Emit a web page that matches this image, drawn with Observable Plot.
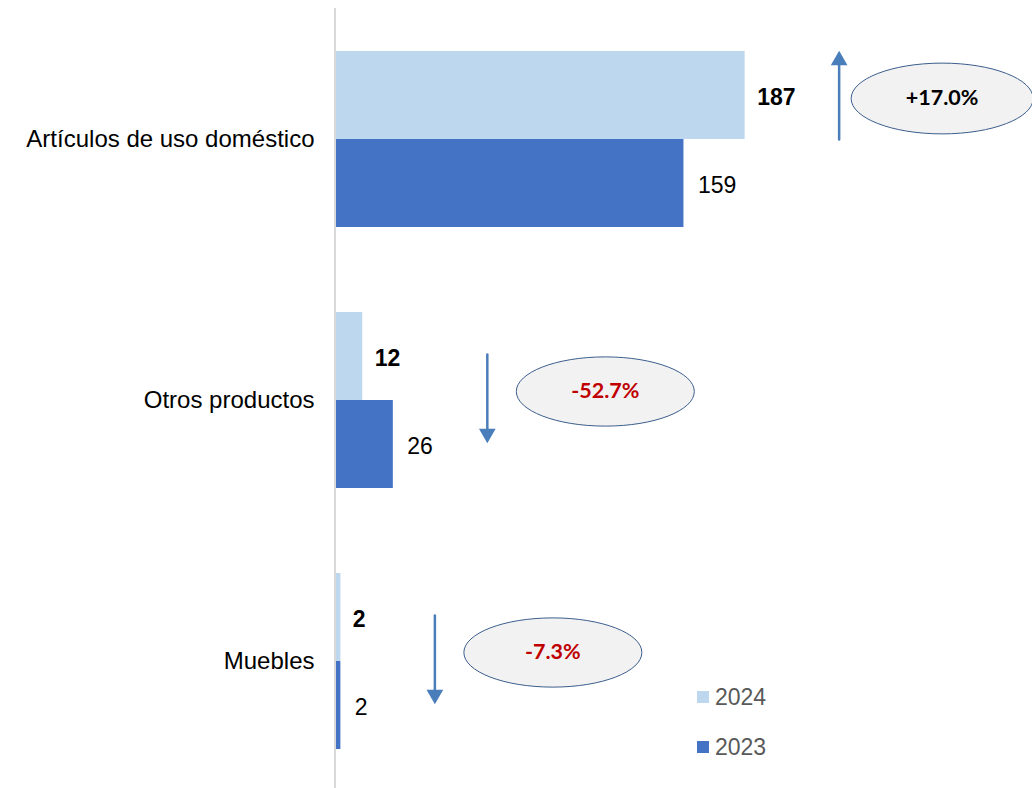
<!DOCTYPE html>
<html>
<head>
<meta charset="utf-8">
<script src="https://cdn.jsdelivr.net/npm/d3@7"></script>
<script src="https://cdn.jsdelivr.net/npm/@observablehq/plot@0.6"></script>
<style>
  html, body { margin: 0; padding: 0; background: #fff; }
  #wrap { position: relative; width: 1032px; height: 788px; overflow: hidden; }
  #legend { position: absolute; left: 697px; top: 683px; font-family: "Liberation Sans", Arial, sans-serif; font-size: 23px; color: #595959; }
  #legend .item { display: flex; align-items: center; height: 28px; margin-bottom: 22px; }
  #legend .sw { width: 12px; height: 12px; margin-right: 6px; }
</style>
</head>
<body>
<div id="wrap"></div>
<script>
// ---- data ----
const categories = ["Artículos de uso doméstico", "Otros productos", "Muebles"];
const years = ["2024", "2023"];
const values2024 = [187, 12, 2];
const values2023 = [159, 26, 2];
const changeLabels = ["+17.0%", "-52.7%", "-7.3%"];
const yearColors = ["#BDD7EE", "#4472C4"];

// ---- tables built from the arrays ----
const rows = [];
categories.forEach((c, i) => {
  rows.push({category: c, year: "2024", value: values2024[i]});
  rows.push({category: c, year: "2023", value: values2023[i]});
});
const annot = categories.map((c, i) => ({
  category: c,
  xmax: Math.max(values2024[i], values2023[i]),
  up: changeLabels[i].startsWith("+"),
  label: changeLabels[i]
}));
const ups = annot.filter(d => d.up);
const downs = annot.filter(d => !d.up);

// ellipse symbol (rx:ry = 90:35)
const ellipse = {
  draw(ctx, size) {
    const rx = Math.sqrt(size / Math.PI), ry = rx * 35 / 90, k = 0.5523;
    ctx.moveTo(rx, 0);
    ctx.bezierCurveTo(rx, k * ry, k * rx, ry, 0, ry);
    ctx.bezierCurveTo(-k * rx, ry, -rx, k * ry, -rx, 0);
    ctx.bezierCurveTo(-rx, -k * ry, -k * rx, -ry, 0, -ry);
    ctx.bezierCurveTo(k * rx, -ry, rx, -k * ry, rx, 0);
    ctx.closePath();
  }
};

const arrowColor = "#4A7EBB";
const arrowDx = 94, ellDx = 205;
const ellFont = "Lato, 'Open Sans', sans-serif";

const plot = Plot.plot({
  width: 1032,
  height: 788,
  marginLeft: 336,
  marginRight: 0,
  marginTop: 50,
  marginBottom: 37,
  style: {fontFamily: "'Liberation Sans', Arial, sans-serif", fontSize: "24px", color: "#000", background: "#fff"},
  x: {domain: [0, 318.5], axis: null},
  y: {domain: years, padding: 0, axis: null},
  fy: {domain: categories, paddingInner: 0.324, paddingOuter: 0, axis: "left", tickSize: 0, tickPadding: 22, label: null},
  color: {domain: years, range: yearColors},
  marks: [
    Plot.barX(rows, {x: "value", y: "year", fy: "category", fill: "year"}),
    Plot.text(rows.filter(d => d.year === "2024"), {x: "value", y: "year", fy: "category", text: d => String(d.value), dx: 12, dy: 2, textAnchor: "start", fontWeight: "bold", fontSize: 23, fill: "#000"}),
    Plot.text(rows.filter(d => d.year === "2023"), {x: "value", y: "year", fy: "category", text: d => String(d.value), dx: 14, dy: 2, textAnchor: "start", fontSize: 23, fill: "#000"}),
    // up arrows
    Plot.arrow(ups, {x1: "xmax", x2: "xmax", y1: () => "2023", y2: () => "2024", fy: "category", dx: arrowDx, dy: -44, headLength: 0, insetEnd: 10, stroke: arrowColor, strokeWidth: 2.5}),
    Plot.dot(ups, {x: "xmax", y: () => "2024", fy: "category", dx: arrowDx, dy: -35, symbol: "triangle", r: 6.2, fill: arrowColor, stroke: "none"}),
    // down arrows
    Plot.arrow(downs, {x1: "xmax", x2: "xmax", y1: () => "2024", y2: () => "2023", fy: "category", dx: arrowDx, dy: -2, headLength: 0, insetEnd: 10, stroke: arrowColor, strokeWidth: 2.5}),
    Plot.dot(downs, {x: "xmax", y: () => "2023", fy: "category", dx: arrowDx, dy: -11, symbol: "triangle", rotate: 180, r: 6.2, fill: arrowColor, stroke: "none"}),
    // ellipses
    Plot.dot(ups, {x: "xmax", y: () => "2024", fy: "category", dx: ellDx - 8, dy: 3, symbol: ellipse, r: 91, fill: "#F2F2F2", stroke: "#3B5E8C", strokeWidth: 1}),
    Plot.dot(downs, {x: "xmax", y: () => "2024", fy: "category", dx: ellDx + 7, dy: 35, symbol: ellipse, r: 89, fill: "#F2F2F2", stroke: "#3B5E8C", strokeWidth: 1}),
    Plot.text(ups, {x: "xmax", y: () => "2024", fy: "category", dx: ellDx - 8, dy: 3, text: "label", fontFamily: ellFont, fontWeight: "bold", fontSize: 21.5, fill: "#000"}),
    Plot.text(downs, {x: "xmax", y: () => "2024", fy: "category", dx: ellDx + 7, dy: 35, text: "label", fontFamily: ellFont, fontWeight: "bold", fontSize: 21.5, fill: "#C00000"})
  ]
});

const wrap = document.getElementById("wrap");
wrap.appendChild(plot);
plot.style.position = "absolute";
plot.style.left = "0px";
plot.style.top = "0px";

// vertical axis line at x = 0
const x0 = plot.scale("x").apply(0);
d3.select(plot).append("line")
  .attr("x1", x0 - 1).attr("x2", x0 - 1)
  .attr("y1", 8).attr("y2", 788)
  .attr("stroke", "#D9D9D9").attr("stroke-width", 2);

// legend
const legend = document.createElement("div");
legend.id = "legend";
years.forEach((y, i) => {
  const item = document.createElement("div");
  item.className = "item";
  const sw = document.createElement("span");
  sw.className = "sw";
  sw.style.background = yearColors[i];
  const t = document.createElement("span");
  t.textContent = y;
  item.appendChild(sw);
  item.appendChild(t);
  legend.appendChild(item);
});
wrap.appendChild(legend);
</script>
</body>
</html>
